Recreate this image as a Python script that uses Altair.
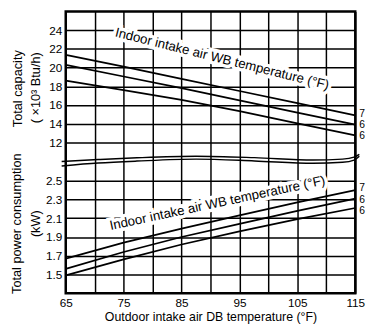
import altair as alt
import pandas as pd

FONT = "Liberation Sans"

# Outdoor intake air DB temperature (°F)
temps = [65, 75, 85, 95, 105, 115]

# Total capacity (x10^3 Btu/h) for the three indoor WB curves
cap_hi = [21.35, 20.1, 18.8, 17.5, 16.2, 14.9]
cap_mid = [20.3, 19.05, 17.8, 16.5, 15.2, 13.9]
cap_lo = [18.6, 17.6, 16.55, 15.35, 14.05, 12.75]

# Total power consumption (kW)
pow_hi = [1.67, 1.84, 1.99, 2.13, 2.27, 2.40]
pow_mid = [1.56, 1.74, 1.90, 2.04, 2.18, 2.31]
pow_lo = [1.49, 1.66, 1.82, 1.96, 2.09, 2.21]

curve_labels = ["7", "6", "6"]
# label heights next to the curve ends
cap_label_pos = [15.05, 13.85, 12.65]
pow_label_pos = [2.42, 2.30, 2.18]

cap_ticks = [12, 14, 16, 18, 20, 22, 24]
pow_ticks = [1.5, 1.7, 1.9, 2.1, 2.3, 2.5]

# axis-break wave (x in °F, y in capacity-scale units)
break_x = [64.3, 70.6, 77.3, 87.5, 97.6, 107.7, 112.8, 114.8, 115.7]
break_upper = [9.96, 10.17, 10.36, 10.53, 10.38, 10.12, 10.22, 10.43, 10.74]
break_lower = [9.49, 9.80, 10.01, 10.22, 10.03, 9.77, 9.88, 10.12, 10.53]

# shared vertical scale: power panel sits below the capacity panel
OFFSET = 17.1


def p2g(w):
    return round(10 * w - OFFSET, 3)


rows = []
for name, vals in [("c1", cap_hi), ("c2", cap_mid), ("c3", cap_lo)]:
    for t, v in zip(temps, vals):
        rows.append({"t": t, "g": v, "series": name})
for name, vals in [("p1", pow_hi), ("p2", pow_mid), ("p3", pow_lo)]:
    for t, v in zip(temps, vals):
        rows.append({"t": t, "g": p2g(v), "series": name})
df = pd.DataFrame(rows)

end_rows = []
for lab, v in zip(curve_labels, cap_label_pos):
    end_rows.append({"t": temps[-1], "g": v, "lab": lab})
for lab, v in zip(curve_labels, pow_label_pos):
    end_rows.append({"t": temps[-1], "g": p2g(v), "lab": lab})
ends = pd.DataFrame(end_rows)

brk = pd.DataFrame(
    [{"t": x, "g": y, "series": "u", "o": i} for i, (x, y) in enumerate(zip(break_x, break_upper))]
    + [{"t": x, "g": y, "series": "l", "o": i} for i, (x, y) in enumerate(zip(break_x, break_lower))]
)

y_values = cap_ticks + [p2g(v) for v in pow_ticks]

xscale = alt.Scale(domain=[65, 115], nice=False, zero=False)
yscale = alt.Scale(domain=[-4.1, 26], nice=False, zero=False)

xaxis = alt.Axis(
    values=list(range(65, 116, 5)),
    labelExpr="datum.value % 10 == 5 ? datum.label : ''",
    title="Outdoor intake air DB temperature (°F)",
    grid=True, ticks=False, domain=False,
    labelFlush=False, labelPadding=5, titlePadding=2,
    titleFontSize=12.6,
)
yaxis = alt.Axis(
    values=y_values,
    labelExpr="datum.value >= 10 ? format(datum.value, 'd') : format((datum.value + 17.1) / 10, '.1f')",
    title=None,
    grid=True, ticks=False, domain=False,
    labelPadding=4,
)

X = alt.X("t:Q", scale=xscale, axis=xaxis)
Y = alt.Y("g:Q", scale=yscale, axis=yaxis)

curves = alt.Chart(df).mark_line(color="black", strokeWidth=1.8).encode(
    x=X, y=Y, detail="series:N"
)

wave = alt.Chart(brk).mark_line(color="black", strokeWidth=1.5, interpolate="monotone").encode(
    x=X, y=Y, detail="series:N", order="o:Q"
)

end_text = alt.Chart(ends).mark_text(
    align="left", baseline="middle", dx=4, font=FONT, fontSize=10.5, color="black"
).encode(x=X, y=Y, text="lab:N")

ann = pd.DataFrame([
    {"t": 92.0, "g": 20.9, "txt": "Indoor intake air WB temperature (°F)", "ang": 14},
    {"t": 91.2, "g": p2g(2.26), "txt": "Indoor intake air WB temperature (°F)", "ang": 348},
])
ann_halo = alt.Chart(ann).mark_text(
    font=FONT, fontSize=13.5, color="white", stroke="white", strokeWidth=7,
    align="center", baseline="middle"
).encode(x=X, y=Y, text="txt:N", angle=alt.Angle("ang:Q", scale=None))
ann_text = alt.Chart(ann).mark_text(
    font=FONT, fontSize=13.5, color="black", align="center", baseline="middle"
).encode(x=X, y=Y, text="txt:N", angle=alt.Angle("ang:Q", scale=None))

titles = pd.DataFrame([
    {"px": -49, "py": 79, "txt": "Total capacity"},
    {"px": -30, "py": 78, "txt": "( ×10³ Btu/h)"},
    {"px": -50, "py": 217, "txt": "Total power consumption"},
    {"px": -30, "py": 217, "txt": "(kW)"},
])
ytitles = alt.Chart(titles).mark_text(
    font=FONT, fontSize=13, color="black", angle=270, align="center", baseline="middle"
).encode(
    x=alt.X("px:Q", scale=None, axis=None),
    y=alt.Y("py:Q", scale=None, axis=None),
    text="txt:N",
)

chart = alt.layer(curves, wave, ann_halo, ann_text, end_text, ytitles).properties(
    width=296,
    height=288,
    autosize=alt.AutoSizeParams(type="none"),
    padding={"left": 59, "top": 0, "right": 12, "bottom": 28},
).configure_view(
    stroke="black", strokeWidth=2.5
).configure_axis(
    gridColor="black", gridWidth=1.5, gridOpacity=1,
    labelFont=FONT, labelFontSize=12, labelColor="black",
    titleFont=FONT, titleFontSize=12, titleFontWeight="normal", titleColor="black",
).resolve_scale(x="shared", y="shared")

chart.save("out.html", embed_options={"renderer": "svg", "actions": False})
